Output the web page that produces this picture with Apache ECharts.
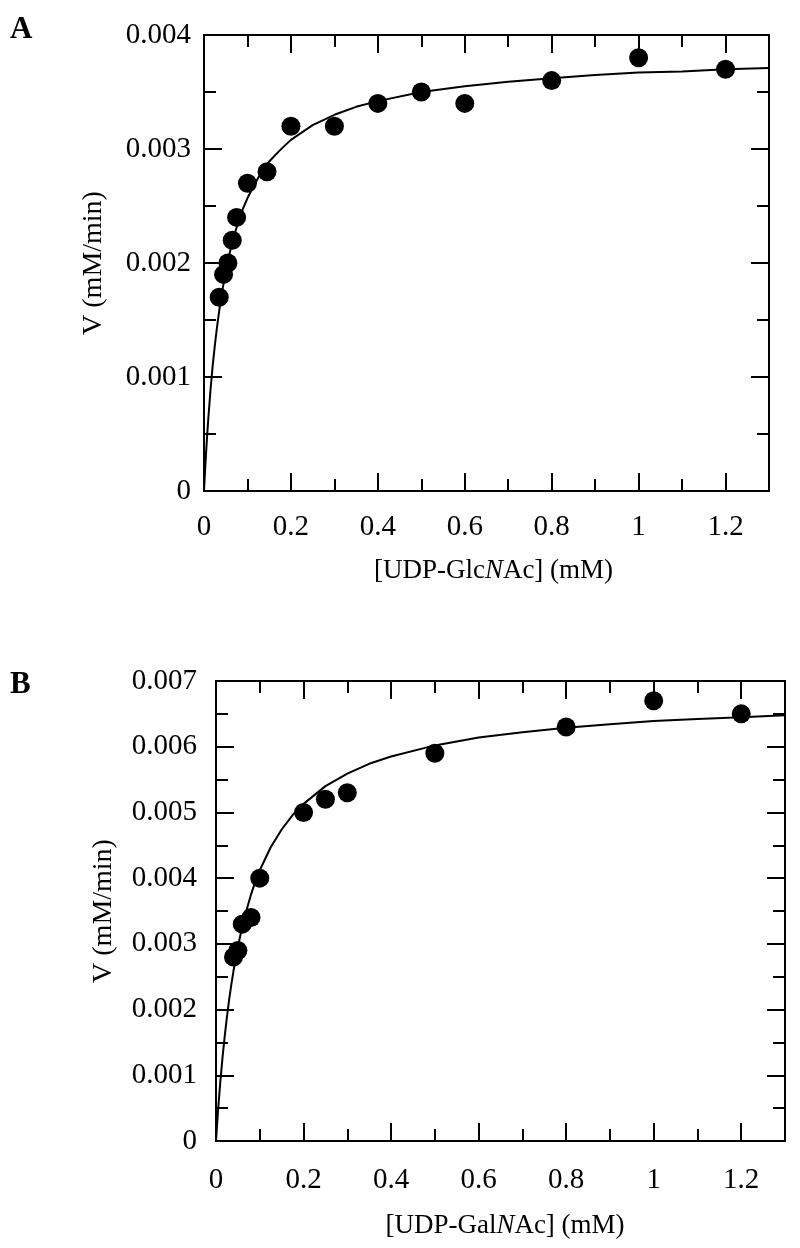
<!DOCTYPE html>
<html>
<head>
<meta charset="utf-8">
<script src="https://cdn.jsdelivr.net/npm/echarts@6/dist/echarts.min.js"></script>
<style>
html,body{margin:0;padding:0;background:#fff;}
#chart{width:800px;height:1248px;}
</style>
</head>
<body>
<div id="chart"></div>
<script>
// ---- Data ----
// Panel A: UDP-GlcNAc
const substrateA = [0.035, 0.045, 0.055, 0.065, 0.075, 0.1, 0.145, 0.2, 0.3, 0.4, 0.5, 0.6, 0.8, 1.0, 1.2];
const velocityA  = [0.0017, 0.0019, 0.0020, 0.0022, 0.0024, 0.0027, 0.0028, 0.0032, 0.0032, 0.0034, 0.0035, 0.0034, 0.0036, 0.0038, 0.0037];
const fitXA = [0, 0.0025, 0.005, 0.0075, 0.01, 0.015, 0.02, 0.025, 0.03, 0.035, 0.04, 0.05, 0.06, 0.07, 0.08, 0.09, 0.1, 0.125, 0.15, 0.175, 0.2, 0.25, 0.3, 0.35, 0.4, 0.5, 0.6, 0.7, 0.8, 0.9, 1.0, 1.1, 1.2, 1.3];
const fitYA = [0, 0.000183, 0.00035, 0.000502, 0.00064, 0.000888, 0.00110, 0.00128, 0.00144, 0.00158, 0.00171, 0.00193, 0.00210, 0.00225, 0.00237, 0.00248, 0.00257, 0.00275, 0.00289, 0.00299, 0.00308, 0.00321, 0.00330, 0.00337, 0.00342, 0.00350, 0.00355, 0.00359, 0.00362, 0.00365, 0.00367, 0.00368, 0.00370, 0.00371];

// Panel B: UDP-GalNAc
const substrateB = [0.04, 0.05, 0.06, 0.08, 0.1, 0.2, 0.25, 0.3, 0.5, 0.8, 1.0, 1.2];
const velocityB  = [0.0028, 0.0029, 0.0033, 0.0034, 0.0040, 0.0050, 0.0052, 0.0053, 0.0059, 0.0063, 0.0067, 0.0065];
const fitXB = [0, 0.0025, 0.005, 0.0075, 0.01, 0.015, 0.02, 0.025, 0.03, 0.035, 0.04, 0.05, 0.06, 0.07, 0.08, 0.09, 0.1, 0.125, 0.15, 0.175, 0.2, 0.25, 0.3, 0.35, 0.4, 0.5, 0.6, 0.7, 0.8, 0.9, 1.0, 1.1, 1.2, 1.3];
const fitYB = [0, 0.000252, 0.00049, 0.000705, 0.00091, 0.00128, 0.00160, 0.00189, 0.00215, 0.00238, 0.00259, 0.00296, 0.00326, 0.00352, 0.00375, 0.00395, 0.00412, 0.00447, 0.00474, 0.00496, 0.00513, 0.00540, 0.00559, 0.00574, 0.00585, 0.00602, 0.00614, 0.00622, 0.00629, 0.00634, 0.00639, 0.00642, 0.00645, 0.00648];

// Tick labels
const xTickLabels  = ['0', '0.2', '0.4', '0.6', '0.8', '1', '1.2'];
const yTickLabelsA = ['0', '0.001', '0.002', '0.003', '0.004'];
const yTickLabelsB = ['0', '0.001', '0.002', '0.003', '0.004', '0.005', '0.006', '0.007'];

const xTitleA = '[UDP-Glc{i|N}Ac] (mM)';
const xTitleB = '[UDP-Gal{i|N}Ac] (mM)';
const yTitle = 'V (mM/min)';

// ---- Styling ----
const FONT = 'Liberation Serif';
const BLACK = '#000';
const TICK_FS = 29;

function pairs(xs, ys) { return xs.map((x, i) => [x, ys[i]]); }

function lookupLabel(labels, step) {
  return function (v) {
    const i = Math.round(v / step);
    if (Math.abs(v - i * step) > step * 1e-6) return '';
    return labels[i] !== undefined ? labels[i] : '';
  };
}

function makeX(grid, position, interval, len, opts) {
  return Object.assign({
    type: 'value', gridIndex: grid, position: position,
    min: 0, max: 1.3, interval: interval,
    axisLine: { show: true, onZero: false, lineStyle: { color: BLACK, width: 2 } },
    axisTick: { show: true, inside: true, length: len, lineStyle: { color: BLACK, width: 2 } },
    axisLabel: { show: false },
    splitLine: { show: false }
  }, opts || {});
}
function makeY(grid, position, max, interval, len, opts) {
  return Object.assign({
    type: 'value', gridIndex: grid, position: position,
    min: 0, max: max, interval: interval,
    axisLine: { show: true, onZero: false, lineStyle: { color: BLACK, width: 2 } },
    axisTick: { show: true, inside: true, length: len, lineStyle: { color: BLACK, width: 2 } },
    axisLabel: { show: false },
    splitLine: { show: false }
  }, opts || {});
}

const xAxes = [];
const yAxes = [];
const panels = [
  { yMax: 0.004, yLabels: yTickLabelsA, xTitle: xTitleA, xLabelMargin: 22, yLabelMargin: 13, xNameGap: 66, xNamePad: 14, yNameGap: 96 },
  { yMax: 0.007, yLabels: yTickLabelsB, xTitle: xTitleB, xLabelMargin: 25, yLabelMargin: 19, xNameGap: 71, xNamePad: 9, yNameGap: 98 }
];
panels.forEach((p, g) => {
  xAxes.push(makeX(g, 'bottom', 0.2, 18, {
    axisLabel: { show: true, margin: p.xLabelMargin, fontFamily: FONT, fontSize: TICK_FS, color: BLACK,
      showMaxLabel: false, formatter: lookupLabel(xTickLabels, 0.2) },
    name: p.xTitle, nameLocation: 'middle', nameGap: p.xNameGap,
    nameTextStyle: { fontFamily: FONT, fontSize: 27, color: BLACK, padding: [0, 0, 0, p.xNamePad],
      rich: { i: { fontFamily: FONT, fontSize: 27, fontStyle: 'italic', color: BLACK } } }
  }));
  xAxes.push(makeX(g, 'bottom', 0.1, 12));
  xAxes.push(makeX(g, 'top', 0.2, 18));
  xAxes.push(makeX(g, 'top', 0.1, 12));

  yAxes.push(makeY(g, 'left', p.yMax, 0.001, 18, {
    axisLabel: { show: true, margin: p.yLabelMargin, fontFamily: FONT, fontSize: TICK_FS, color: BLACK,
      formatter: lookupLabel(p.yLabels, 0.001) },
    name: yTitle, nameLocation: 'middle', nameGap: p.yNameGap,
    nameTextStyle: { fontFamily: FONT, fontSize: 28, color: BLACK }
  }));
  yAxes.push(makeY(g, 'left', p.yMax, 0.0005, 12));
  yAxes.push(makeY(g, 'right', p.yMax, 0.001, 18));
  yAxes.push(makeY(g, 'right', p.yMax, 0.0005, 12));
});

const option = {
  animation: false,
  backgroundColor: '#fff',
  grid: [
    { left: 204, top: 35, width: 565, height: 456 },
    { left: 216, top: 681, width: 569, height: 460 }
  ],
  xAxis: xAxes,
  yAxis: yAxes,
  graphic: [
    { type: 'text', left: 10, top: 14, style: { text: 'A', font: 'bold 31px "Liberation Serif"', fill: BLACK } },
    { type: 'text', left: 10, top: 669, style: { text: 'B', font: 'bold 31px "Liberation Serif"', fill: BLACK } }
  ],
  series: [
    { type: 'line', xAxisIndex: 0, yAxisIndex: 0, data: pairs(fitXA, fitYA), showSymbol: false,
      smooth: false, lineStyle: { color: BLACK, width: 2 }, z: 2 },
    { type: 'scatter', xAxisIndex: 0, yAxisIndex: 0, data: pairs(substrateA, velocityA), symbolSize: 19,
      itemStyle: { color: BLACK, opacity: 1 }, z: 3 },
    { type: 'line', xAxisIndex: 4, yAxisIndex: 4, data: pairs(fitXB, fitYB), showSymbol: false,
      smooth: false, lineStyle: { color: BLACK, width: 2 }, z: 2 },
    { type: 'scatter', xAxisIndex: 4, yAxisIndex: 4, data: pairs(substrateB, velocityB), symbolSize: 19,
      itemStyle: { color: BLACK, opacity: 1 }, z: 3 }
  ]
};

const chart = echarts.init(document.getElementById('chart'), null, { renderer: 'canvas' });
chart.setOption(option);
</script>
</body>
</html>
